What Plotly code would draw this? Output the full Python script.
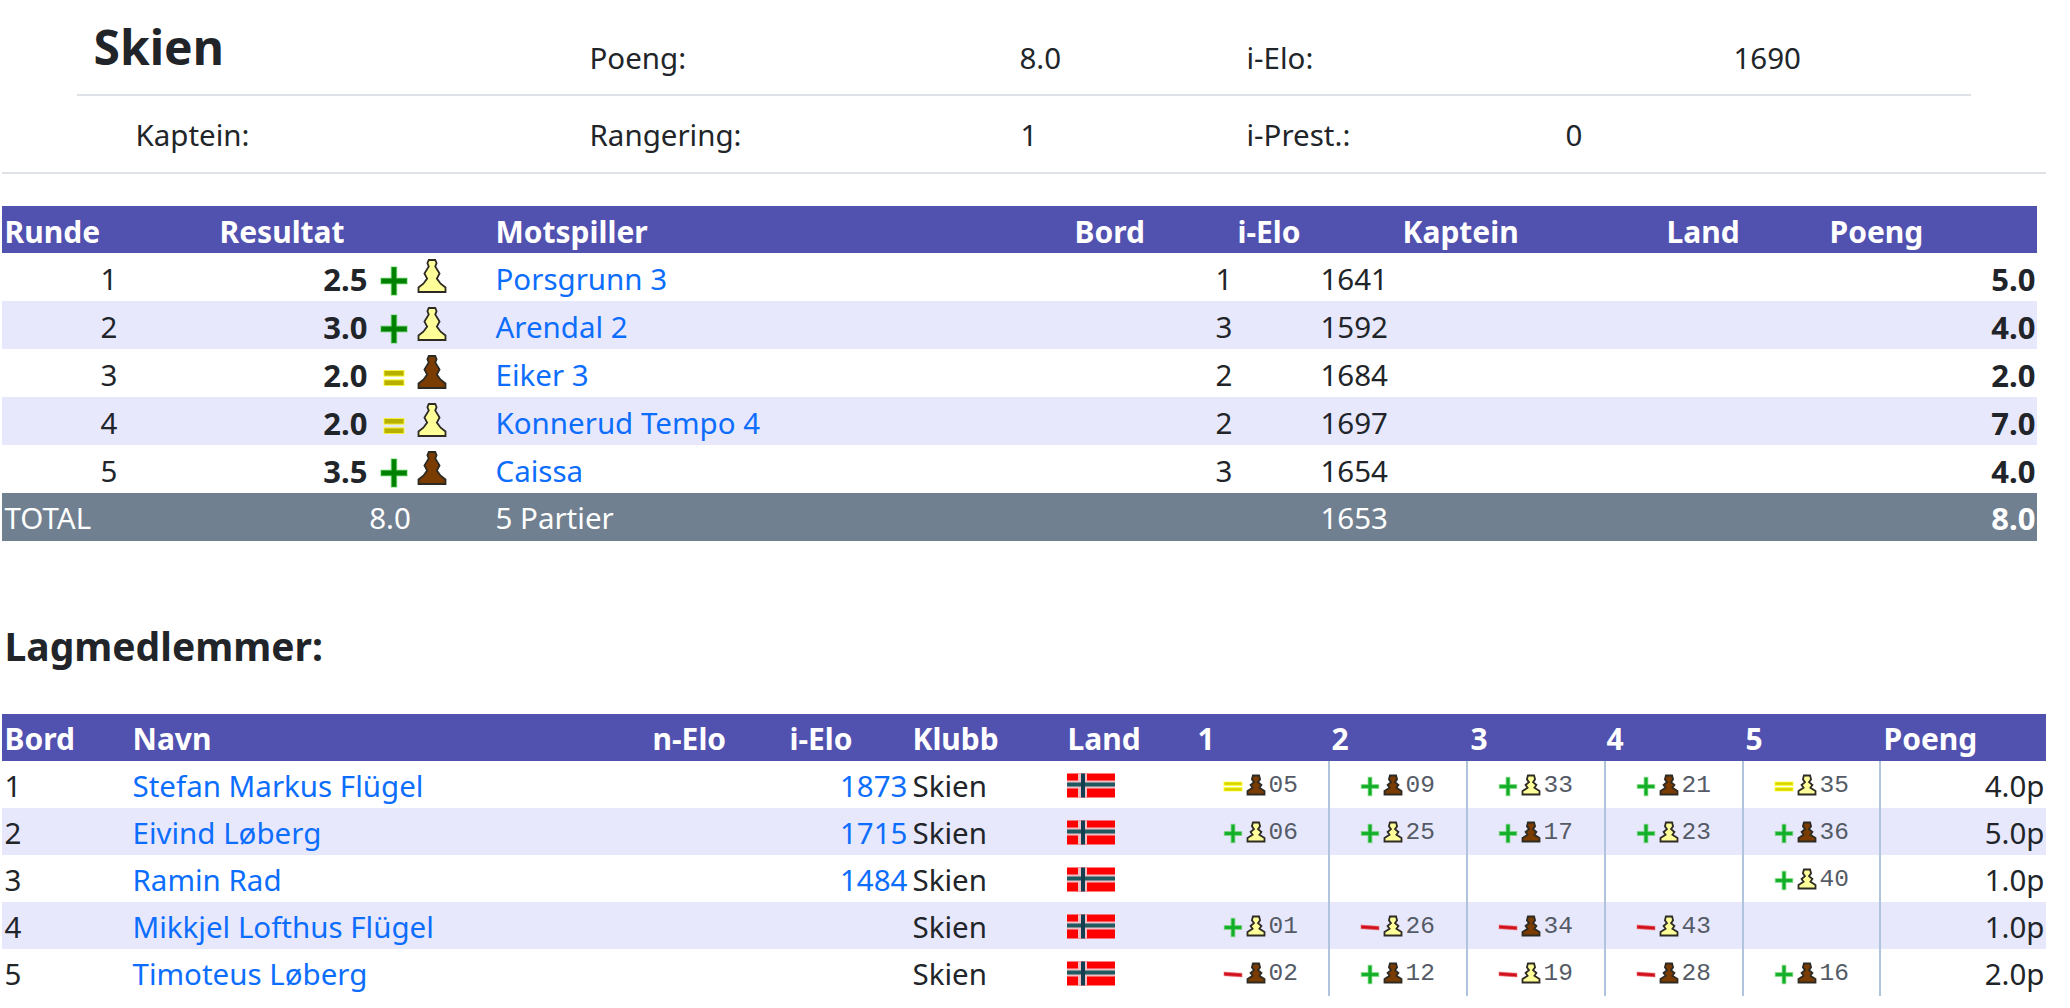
import plotly.graph_objects as go

FONT = "Noto Sans"
DARK = "#212529"
LINK = "#0d6efd"
HEAD = "#5151af"
ALT = "#e8e8fd"
TOTAL = "#708090"

# team summary
team = "Skien"
summary_labels = ["Poeng:", "i-Elo:", "Kaptein:", "Rangering:", "i-Prest.:"]
summary_values = ["8.0", "1690", "1", "0"]

# rounds table
round_headers = ["Runde", "Resultat", "Motspiller", "Bord", "i-Elo", "Kaptein", "Land", "Poeng"]
rounds = [1, 2, 3, 4, 5]
results = ["2.5", "3.0", "2.0", "2.0", "3.5"]
result_signs = ["+", "+", "=", "=", "+"]
result_colors = ["w", "w", "b", "w", "b"]
opponents = ["Porsgrunn 3", "Arendal 2", "Eiker 3", "Konnerud Tempo 4", "Caissa"]
opp_boards = [1, 3, 2, 2, 3]
opp_elo = [1641, 1592, 1684, 1697, 1654]
opp_points = ["5.0", "4.0", "2.0", "7.0", "4.0"]
total_row = ["TOTAL", "8.0", "5 Partier", "1653", "8.0"]

# team members table
member_headers = ["Bord", "Navn", "n-Elo", "i-Elo", "Klubb", "Land", "1", "2", "3", "4", "5", "Poeng"]
boards = [1, 2, 3, 4, 5]
names = ["Stefan Markus Flügel", "Eivind Løberg", "Ramin Rad", "Mikkjel Lofthus Flügel", "Timoteus Løberg"]
member_elo = ["1873", "1715", "1484", "", ""]
clubs = ["Skien"] * 5
member_points = ["4.0p", "5.0p", "1.0p", "1.0p", "2.0p"]
games = [
    ["=b05", "+b09", "+w33", "+b21", "=w35"],
    ["+w06", "+w25", "+b17", "+w23", "+b36"],
    ["", "", "", "", "+w40"],
    ["+w01", "-w26", "-b34", "-w43", ""],
    ["-b02", "+b12", "-w19", "-b28", "+b16"],
]

# layout of the page, in pixels
T1_TOP, T1_HEAD, T1_ROW = 206, 47, 48
T2_TOP, T2_HEAD, T2_ROW = 714, 47, 47
T1_RIGHT, T2_RIGHT = 2060, 2070
T1_HEAD_X = [5, 220, 496, 1075, 1238, 1403, 1667, 1830]
T2_HEAD_X = [5, 133, 653, 790, 913, 1068, 1198, 1332, 1471, 1607, 1746, 1884]
CELL_X = [1192, 1329, 1467, 1605, 1743]
SIZE = 29.5
HEAD_SIZE = 30
BOLD_SIZE = 31
Y_SHIFT = 4

fig = go.Figure()
shapes = []


def put(xs, ys, texts, color=DARK, size=SIZE, bold=False, pos="middle right", family=FONT):
    nudge = {"middle right": -0.5, "middle left": 1.5, "middle center": 0}[pos]
    fig.add_trace(go.Scatter(
        x=[x + nudge for x in xs], y=[y + Y_SHIFT for y in ys], text=texts, mode="text",
        textposition=pos, cliponaxis=False, hoverinfo="skip", showlegend=False,
        textfont=dict(family=family, size=size, color=color, weight=700 if bold else 400),
    ))


def rect(x0, y0, x1, y1, color, layer="below"):
    shapes.append(dict(type="rect", x0=x0, x1=x1, y0=y0, y1=y1, fillcolor=color,
                       line_width=0, layer=layer))


def icon(x, y, w, h, points, color, line=None, lw=0):
    # points are fractions of the icon box, y going down
    path = "M" + "L".join(f"{(px - 0.5) * w:.2f},{(0.5 - py) * h:.2f}" for px, py in points) + "Z"
    shapes.append(dict(type="path", path=path, xsizemode="pixel", ysizemode="pixel",
                       xanchor=x, yanchor=y, fillcolor=color, layer="above",
                       line=dict(color=line or color, width=lw)))


PAWN = [(0.38, 0), (0.62, 0), (0.67, 0.1), (0.62, 0.2), (0.78, 0.42), (0.68, 0.58),
        (0.82, 0.74), (1, 0.86), (1, 1), (0, 1), (0, 0.86), (0.18, 0.74), (0.32, 0.58),
        (0.22, 0.42), (0.38, 0.2), (0.33, 0.1)]
PAWN_SMALL = [(0.32, 0), (0.68, 0), (0.74, 0.2), (0.62, 0.35), (0.82, 0.5), (0.7, 0.65),
              (1, 0.82), (1, 1), (0, 1), (0, 0.82), (0.3, 0.65), (0.18, 0.5), (0.38, 0.35),
              (0.26, 0.2)]
PLUS = [(0.4, 0), (0.6, 0), (0.6, 0.4), (1, 0.4), (1, 0.6), (0.6, 0.6),
        (0.6, 1), (0.4, 1), (0.4, 0.6), (0, 0.6), (0, 0.4), (0.4, 0.4)]
BAR_TOP = [(0, 0), (1, 0), (1, 0.38), (0, 0.38)]
BAR_LOW = [(0, 0.62), (1, 0.62), (1, 1), (0, 1)]
MINUS = [(0, 0.1), (1, 0.3), (1, 0.9), (0, 0.7)]


def pawn(x, y, w, h, side, outline=PAWN):
    fill = "#ffff99" if side == "w" else "#7a3c00"
    icon(x, y, w, h, outline, fill, line="#2e2a24", lw=1.8)


def sign(x, y, kind, big):
    if kind == "+":
        w, h = (26, 28) if big else (17, 18)
        icon(x, y, w, h, PLUS, "#008000" if big else "#12ad2b", line="rgba(60,200,60,0.45)", lw=1.5)
    elif kind == "=":
        w, h = (20, 15) if big else (18, 9)
        core = "#b8b000" if big else "#d8d400"
        dy = 1 if big else 0
        icon(x, y + dy, w, h, BAR_TOP, core, line="rgba(255,255,40,0.7)", lw=1.2)
        icon(x, y + dy, w, h, BAR_LOW, core, line="rgba(255,255,40,0.7)", lw=1.2)
    else:
        icon(x, y, 18, 6, MINUS, "#d0101c", line="rgba(240,120,120,0.5)", lw=1.2)


# title block
put([94], [49], [team], size=48, bold=True)
put([590, 1247, 136, 590, 1247], [58, 58, 135, 135, 135], summary_labels)
put([1020, 1734, 1021, 1566], [58, 58, 135, 135], summary_values)
shapes.append(dict(type="line", x0=77, x1=1971, y0=95, y1=95, line=dict(color="#dee2e6", width=2), layer="below"))
shapes.append(dict(type="line", x0=2, x1=2046, y0=173, y1=173, line=dict(color="#dee2e6", width=2), layer="below"))

# rounds table
rect(2, T1_TOP, T1_RIGHT - 23, T1_TOP + T1_HEAD, HEAD)
t1_top = T1_TOP + T1_HEAD
t1_y = [t1_top + T1_ROW * (i + 0.5) + 2 for i in range(len(rounds))]
for i in range(len(rounds)):
    if i % 2 == 1:
        rect(2, t1_top + T1_ROW * i, T1_RIGHT - 23, t1_top + T1_ROW * (i + 1), ALT)
total_top = t1_top + T1_ROW * len(rounds)
rect(2, total_top, T1_RIGHT - 23, total_top + T1_HEAD + 1, TOTAL)

put(T1_HEAD_X, [T1_TOP + 25] * len(round_headers), round_headers, color="white", bold=True, size=HEAD_SIZE)
put([109] * 5, t1_y, rounds, pos="middle center")
put([366] * 5, t1_y, results, bold=True, pos="middle left", size=BOLD_SIZE)
put([496] * 5, t1_y, opponents, color=LINK)
put([1224] * 5, t1_y, opp_boards, pos="middle center")
put([1321] * 5, t1_y, opp_elo)
put([2034] * 5, t1_y, opp_points, bold=True, pos="middle left", size=BOLD_SIZE)
for i in range(len(rounds)):
    sign(394, t1_y[i] + 2, result_signs[i], True)
    pawn(432, t1_y[i] - 3, 27, 32, result_colors[i])

total_y = total_top + 25
put([5, 496, 1321], [total_y] * 3, [total_row[0], total_row[2], total_row[3]], color="white")
put([390], [total_y], [total_row[1]], color="white", pos="middle center")
put([2034], [total_y], [total_row[4]], color="white", bold=True, pos="middle left", size=BOLD_SIZE)

put([5], [647], ["Lagmedlemmer:"], size=39, bold=True)

# team members table
rect(2, T2_TOP, T2_RIGHT - 24, T2_TOP + T2_HEAD, HEAD)
t2_top = T2_TOP + T2_HEAD
t2_y = [t2_top + T2_ROW * (i + 0.5) + 1 for i in range(len(boards))]
for i in range(len(boards)):
    if i % 2 == 1:
        rect(2, t2_top + T2_ROW * i, T2_RIGHT - 24, t2_top + T2_ROW * (i + 1), ALT)
t2_bottom = t2_top + T2_ROW * len(boards)
for x in CELL_X[1:] + [1880]:
    shapes.append(dict(type="line", x0=x, x1=x, y0=t2_top, y1=t2_bottom,
                       line=dict(color="#b0c4de", width=2), layer="below"))

put(T2_HEAD_X, [T2_TOP + 24] * len(member_headers), member_headers, color="white", bold=True, size=HEAD_SIZE)
put([5] * 5, t2_y, boards)
put([133] * 5, t2_y, names, color=LINK)
put([906] * 5, t2_y, member_elo, color=LINK, pos="middle left")
put([913] * 5, t2_y, clubs)
put([2043] * 5, t2_y, member_points, pos="middle left")

for i in range(len(boards)):
    y = t2_y[i]
    # flag
    rect(1067, y - 12, 1115, y + 12, "#ff0000", layer="above")
    rect(1067, y - 5, 1115, y + 3, "#f0c0c8", layer="above")
    rect(1078, y - 12, 1087, y + 12, "#f0c0c8", layer="above")
    rect(1067, y - 3, 1115, y + 1, "#1e5a5f", layer="above")
    rect(1081, y - 12, 1085, y + 12, "#143f50", layer="above")
    for c, game in enumerate(games[i]):
        if game:
            sign(CELL_X[c] + 41, t2_y[i] + 1, game[0], False)
            pawn(CELL_X[c] + 64, t2_y[i] - 0.5, 17, 19, game[1], PAWN_SMALL)

game_x = [CELL_X[c] + 77 for i in range(5) for c in range(5) if games[i][c]]
game_y = [t2_y[i] - 3.5 for i in range(5) for c in range(5) if games[i][c]]
game_t = [games[i][c][2:] for i in range(5) for c in range(5) if games[i][c]]
put(game_x, game_y, game_t, color="#555b66", size=24.5, family="Liberation Mono")

fig.update_layout(
    width=2070, height=1008, margin=dict(l=0, r=0, t=0, b=0),
    paper_bgcolor="white", plot_bgcolor="white", shapes=shapes,
    xaxis=dict(range=[0, 2070], visible=False, fixedrange=True),
    yaxis=dict(range=[1008, 0], visible=False, fixedrange=True),
)
fig.write_html("out.html", post_script="document.body.style.margin='0';", config={"displayModeBar": False})
